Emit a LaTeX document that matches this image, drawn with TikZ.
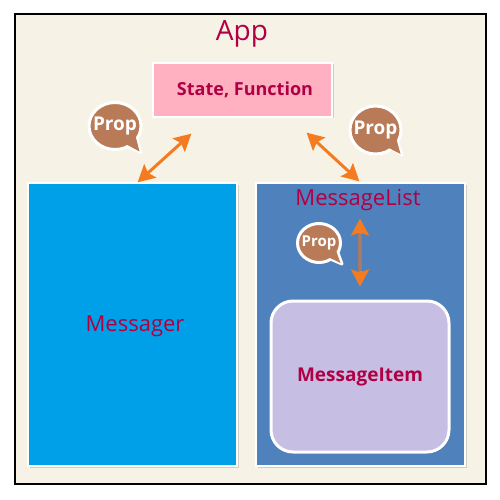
\documentclass[tikz,border=0pt]{standalone}
\usepackage{fontspec}
\setmainfont{Open Sans}
\usetikzlibrary{arrows.meta}
\usetikzlibrary{shadows}
\usetikzlibrary{shapes.geometric}
\definecolor{framebg}{HTML}{F6F2E5}
\definecolor{labelred}{HTML}{B00044}
\definecolor{statepink}{HTML}{FFB0C1}
\definecolor{messagerblue}{HTML}{00A0E9}
\definecolor{listblue}{HTML}{4F81BD}
\definecolor{itempurple}{HTML}{C7BEE4}
\definecolor{propbrown}{HTML}{B97A57}
\definecolor{arroworange}{HTML}{F47B20}
\tikzset{
    softshadow/.style={drop shadow={shadow xshift=1.5pt, shadow yshift=-1.5pt, fill=black, opacity=0.15}},
    panel/.style={draw=white, line width=2.5pt, minimum width=#1, softshadow},
    label/.style={text=labelred, inner sep=0pt},
    propbubble/.style={ellipse, fill=propbrown, draw=white, line width=3pt, inner sep=0pt},
    proptext/.style={text=white, inner sep=0pt, font=\bfseries\fontsize{19}{19}\selectfont},
    proptail/.style={fill=propbrown, draw=white, line width=3pt, line join=round},
    exchange/.style={{Stealth[length=17pt, width=18pt, inset=3pt]}-{Stealth[length=17pt, width=18pt, inset=3pt]}, arroworange, line width=3pt, shorten <=-0.5pt, shorten >=-0.5pt}
}
\begin{document}
\begin{tikzpicture}[x=1pt, y=-1pt]
        \useasboundingbox (0,0) rectangle (500,500);
        % frame
        \fill[white] (0,0) rectangle (500,500);
        \draw[black, line width=2pt, fill=framebg] (14.5,14.5) rectangle (485.5,483.5);
        \node[label, font=\fontsize{28}{28}\selectfont] (app) at (242,34) {App};
        % boxes
        \node[panel=179pt, minimum height=54pt, fill=statepink, label, font=\bfseries\fontsize{18}{18}\selectfont] (state) at (242.5,90) {\hspace{5pt}State, Function};
        \node[panel=209pt, minimum height=283pt, fill=messagerblue] (messager) at (132.5,324.5) {};
        \node[panel=209pt, minimum height=283pt, fill=listblue] (messagelist) at (360.5,324.5) {};
        \node[panel=178pt, minimum height=151pt, rounded corners=22pt, fill=itempurple, line width=3pt, drop shadow={opacity=0}] (messageitem) at (360,376.5) {};
        \node[label, font=\fontsize{22}{22}\selectfont] (messagerlabel) at (135,326) {Messager};
        \node[label, font=\fontsize{22}{22}\selectfont] (messagelistlabel) at (358,200) {MessageList};
        \node[label, font=\bfseries\fontsize{19}{19}\selectfont] (messageitemlabel) at (360,377) {MessageItem};
        % coordinates
        \coordinate (A) at (138,182);
        \coordinate (B) at (191,134);
        \coordinate (C) at (307,133);
        \coordinate (D) at (359,181);
        \coordinate (E) at (360,219);
        \coordinate (F) at (360,286);
        % arrows
        \draw[exchange] (A) -- (B);
        \draw[exchange] (C) -- (D);
        \draw[exchange] (E) -- (F);
        \draw[propbrown!80!listblue, line width=3.5pt] (360,234) -- (360,271);
        % bubbles
        \draw[proptail] (124,145) -- (141,152.5) -- (136,136) -- cycle;
        \node[propbubble, minimum width=52pt, minimum height=47pt] (propA) at (115,126) {};
        \fill[propbrown] (122,142) -- (139.5,151.5) -- (134,130) -- cycle;
        \node[proptext] (propAtext) at (115,126) {Prop};
        \draw[proptail] (386,145) -- (402,155) -- (396,138) -- cycle;
        \node[propbubble, minimum width=51pt, minimum height=48pt] (propB) at (375.5,130) {};
        \fill[propbrown] (383,145) -- (400.5,154) -- (394,130) -- cycle;
        \node[proptext] (propBtext) at (375.5,130) {Prop};
        \draw[proptail] (328,258) -- (342,264) -- (337,250) -- cycle;
        \node[propbubble, minimum width=43pt, minimum height=39pt] (propC) at (319,243) {};
        \fill[propbrown] (326,256) -- (340.5,263) -- (334,245) -- cycle;
        \node[proptext, font=\bfseries\fontsize{15}{15}\selectfont] (propCtext) at (319,243) {Prop};
\end{tikzpicture}
\end{document}
